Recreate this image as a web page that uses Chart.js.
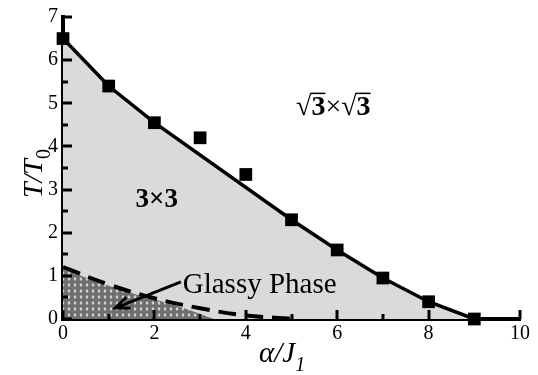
<!DOCTYPE html>
<html>
<head>
<meta charset="utf-8">
<script src="https://cdn.jsdelivr.net/npm/chart.js@4.4.0/dist/chart.umd.min.js"></script>
<style>
  body { margin: 0; background: #fff; }
  #wrap { width: 538px; height: 375px; }
</style>
</head>
<body>
<div id="wrap"><canvas id="phaseChart" width="538" height="375"></canvas></div>
<script>
// transition line (solid) and simulation points
const lineX = [0, 1, 2, 5, 6, 7, 8, 9];
const lineT = [6.5, 5.4, 4.55, 2.3, 1.6, 0.95, 0.4, 0];
const pointX = [0, 1, 2, 3, 4, 5, 6, 7, 8, 9];
const pointT = [6.5, 5.4, 4.55, 4.2, 3.35, 2.3, 1.6, 0.95, 0.4, 0];

// glassy boundary (dashed) and the shaded glassy region
const glassX = [0, 1, 2, 3, 4, 5];
const glassT = [1.2, 0.8, 0.48, 0.25, 0.08, 0.01];
const shadeX = [0, 1.5, 2.5, 3.3];
const shadeT = [1.15, 0.6, 0.3, 0];

const xTicks = [0, 2, 4, 6, 8, 10];
const yTicks = [0, 1, 2, 3, 4, 5, 6, 7];

const serif = "'Liberation Serif', 'Times New Roman', serif";

function toXY(xs, ys) {
    return xs.map(function (x, i) { return { x: x, y: ys[i] }; });
}

// dotted dark pattern for the glassy region
const pc = document.createElement("canvas");
pc.width = 6;
pc.height = 6;
const pctx = pc.getContext("2d");
pctx.fillStyle = "#6e6e6e";
pctx.fillRect(0, 0, 6, 6);
pctx.fillStyle = "#d0d0d0";
pctx.beginPath();
pctx.ellipse(3, 3, 1.3, 1.8, 0, 0, Math.PI * 2);
pctx.fill();
const glassPattern = pctx.createPattern(pc, "repeat");

const decor = {
    id: "decor",
    afterDatasetsDraw(chart) {
        const ctx = chart.ctx;
        const xs = chart.scales.x;
        const ys = chart.scales.y;
        const x0 = xs.getPixelForValue(0);
        const y0 = ys.getPixelForValue(0);

        ctx.save();
        ctx.strokeStyle = "#000";
        ctx.lineWidth = 3;
        // inward ticks
        for (let v = 0; v <= 10; v++) {
            const len = v % 2 === 0 ? 9 : 5;
            const px = Math.round(xs.getPixelForValue(v));
            ctx.beginPath();
            ctx.moveTo(px, y0);
            ctx.lineTo(px, y0 - len);
            ctx.stroke();
        }
        for (let v = 0; v <= 7; v += 0.5) {
            const len = v % 1 === 0 ? 9 : 5;
            const py = Math.round(ys.getPixelForValue(v));
            ctx.beginPath();
            ctx.moveTo(x0, py);
            ctx.lineTo(x0 + len, py);
            ctx.stroke();
        }

        ctx.fillStyle = "#000";
        ctx.textBaseline = "alphabetic";

        // 3x3 label
        ctx.font = "bold 27px " + serif;
        ctx.textAlign = "center";
        ctx.fillText("3\u00d73", xs.getPixelForValue(2.05), ys.getPixelForValue(2.6));

        // sqrt3 x sqrt3 label
        let tx = xs.getPixelForValue(5.1);
        const ty = ys.getPixelForValue(4.72);
        ctx.textAlign = "left";
        const parts = [["\u221a", "28px " + serif, false], ["3", "bold 28px " + serif, true],
                       ["\u00d7", "28px " + serif, false], ["\u221a", "28px " + serif, false],
                       ["3", "bold 28px " + serif, true]];
        parts.forEach(function (p) {
            ctx.font = p[1];
            const w = ctx.measureText(p[0]).width;
            ctx.fillText(p[0], tx, ty);
            if (p[2]) {
                ctx.lineWidth = 1.5;
                ctx.beginPath();
                ctx.moveTo(tx - 1, ty - 22);
                ctx.lineTo(tx + w, ty - 22);
                ctx.stroke();
            }
            tx += w;
        });

        // glassy phase label and arrow
        ctx.font = "29px " + serif;
        ctx.fillText("Glassy Phase", xs.getPixelForValue(2.62), ys.getPixelForValue(0.6));
        const ax = xs.getPixelForValue(2.58), ay = ys.getPixelForValue(0.86);
        const bx = xs.getPixelForValue(1.15), by = ys.getPixelForValue(0.26);
        ctx.lineWidth = 3;
        ctx.beginPath();
        ctx.moveTo(ax, ay);
        ctx.lineTo(bx, by);
        ctx.stroke();
        const ang = Math.atan2(by - ay, bx - ax);
        ctx.beginPath();
        ctx.moveTo(bx - 15 * Math.cos(ang - 0.4), by - 15 * Math.sin(ang - 0.4));
        ctx.lineTo(bx, by);
        ctx.lineTo(bx - 15 * Math.cos(ang + 0.4), by - 15 * Math.sin(ang + 0.4));
        ctx.stroke();

        // x axis title
        ctx.font = "italic 29px " + serif;
        let lx = 259;
        ctx.fillText("\u03b1/J", lx, 362);
        lx += ctx.measureText("\u03b1/J").width;
        ctx.font = "italic 20px " + serif;
        ctx.fillText("1", lx, 371);

        // y axis title
        ctx.translate(42, 198);
        ctx.rotate(-Math.PI / 2);
        ctx.font = "italic 28px " + serif;
        ctx.fillText("T/T", 0, 0);
        const w2 = ctx.measureText("T/T").width;
        ctx.font = "20px " + serif;
        ctx.fillText("0", w2, 8);
        ctx.restore();
    }
};

new Chart(document.getElementById("phaseChart"), {
    type: "scatter",
    data: {
        datasets: [
            {
                label: "markers",
                data: toXY(pointX, pointT),
                pointStyle: "rect",
                pointRadius: 9,
                backgroundColor: "#000",
                borderColor: "#000",
                borderWidth: 0,
                clip: false,
                order: 1
            },
            {
                label: "glassy boundary",
                type: "line",
                data: toXY(glassX, glassT),
                borderColor: "#000",
                borderWidth: 4,
                borderDash: [18, 9],
                tension: 0.4,
                pointRadius: 0,
                fill: false,
                order: 2
            },
            {
                label: "glassy region",
                type: "line",
                data: toXY(shadeX, shadeT),
                borderWidth: 0,
                borderColor: "rgba(0,0,0,0)",
                backgroundColor: glassPattern,
                tension: 0.3,
                pointRadius: 0,
                fill: "origin",
                order: 3
            },
            {
                label: "transition",
                type: "line",
                data: toXY(lineX, lineT),
                borderColor: "#000",
                borderWidth: 3.5,
                backgroundColor: "#dadada",
                tension: 0,
                pointRadius: 0,
                fill: "origin",
                order: 4
            }
        ]
    },
    options: {
        responsive: false,
        animation: false,
        layout: { padding: { top: 15, right: 18, left: 0, bottom: 0 } },
        plugins: {
            legend: { display: false },
            tooltip: { enabled: false }
        },
        scales: {
            x: {
                type: "linear",
                min: 0,
                max: 10,
                afterFit: function (s) { s.height = 56; },
                afterBuildTicks: function (s) { s.ticks = xTicks.map(function (v) { return { value: v }; }); },
                grid: { display: true, drawOnChartArea: false, drawTicks: false },
                border: { display: true, color: "#000", width: 4 },
                ticks: { color: "#000", padding: 3, font: { family: serif, size: 20 } }
            },
            y: {
                type: "linear",
                min: 0,
                max: 7,
                afterFit: function (s) { s.width = 63; },
                afterBuildTicks: function (s) { s.ticks = yTicks.map(function (v) { return { value: v }; }); },
                grid: { display: true, drawOnChartArea: false, drawTicks: false },
                border: { display: true, color: "#000", width: 4 },
                ticks: { color: "#000", padding: 5, font: { family: serif, size: 20 } }
            }
        }
    },
    plugins: [decor]
});
</script>
</body>
</html>
